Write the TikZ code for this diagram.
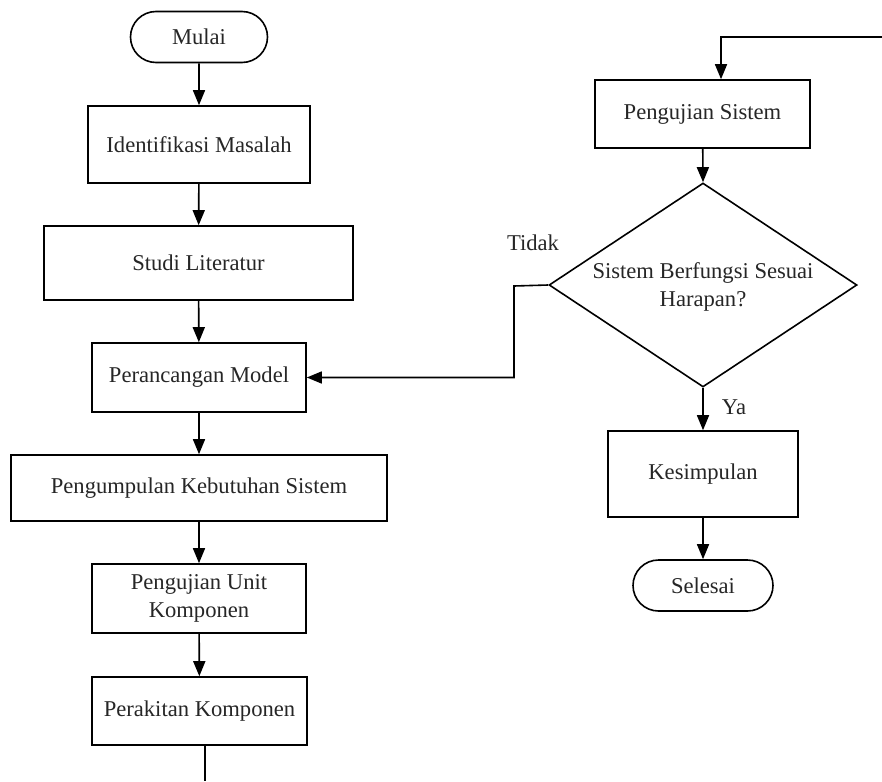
\documentclass[tikz,border=0pt]{standalone}
\usepackage{fontspec}
\setmainfont{Liberation Serif}
\usetikzlibrary{shapes.geometric,shapes.misc,arrows.meta}
\begin{document}
\begin{tikzpicture}[x=1pt,y=-1pt,
  every node/.style={font=\fontsize{22.6}{28}\selectfont, text=black!85},
  procbox/.style={draw, line width=1.6pt, rectangle, inner sep=0pt},
  termbox/.style={draw, line width=1.6pt, rounded rectangle, inner sep=0pt},
  decbox/.style={draw, line width=1.6pt, diamond, inner sep=0pt},
  arr/.style={line width=1.6pt, -{Triangle[length=15pt,width=12pt]}},
  plain/.style={line width=1.6pt}]
\useasboundingbox (0,0) rectangle (882,781);
% left column
\node[termbox, minimum width=137pt, minimum height=51pt] (mulai) at (199,37) {Mulai};
\node[procbox, minimum width=222pt, minimum height=77pt] (ident) at (199,144.5) {Identifikasi Masalah};
\node[procbox, minimum width=309pt, minimum height=74pt] (studi) at (198.5,263) {Studi Literatur};
\node[procbox, minimum width=214pt, minimum height=69pt] (peranc) at (199,377.5) {Perancangan Model};
\node[procbox, minimum width=376pt, minimum height=66pt] (kebut) at (199,488) {Pengumpulan Kebutuhan Sistem};
\node[procbox, minimum width=214pt, minimum height=69pt, align=center] (unit) at (199,598.5) {Pengujian Unit\\Komponen};
\node[procbox, minimum width=215pt, minimum height=68pt] (rakit) at (199.5,711) {Perakitan Komponen};
% right column
\node[procbox, minimum width=215pt, minimum height=68pt] (uji) at (702.5,114) {Pengujian Sistem};
\node[decbox, minimum width=308pt, minimum height=204pt] (dec) at (703,285) {};
\node[align=center] (dectext) at (703,287) {Sistem Berfungsi Sesuai\\Harapan?};
\node[procbox, minimum width=190pt, minimum height=86pt] (kes) at (703,474) {Kesimpulan};
\node[termbox, minimum width=140pt, minimum height=51pt] (sel) at (703,585.5) {Selesai};
% labels
\node (tidak) at (533,243) {Tidak};
\node (ya) at (734,407) {Ya};
% coordinates
\coordinate (botout) at (205,781);
\coordinate (topin) at (882,37);
\coordinate (topcorner) at (721,37);
\coordinate (loopx) at (514,286);
% connectors
\draw[arr] (mulai) -- (ident);
\draw[arr] (ident) -- (studi);
\draw[arr] (studi) -- (peranc);
\draw[arr] (peranc) -- (kebut);
\draw[arr] (kebut) -- (unit);
\draw[arr] (unit) -- (rakit);
\draw[plain] (rakit.south -| botout) -- (botout);
\draw[arr] (topin) -- (topcorner) -- (topcorner |- uji.north);
\draw[arr] (uji) -- (dec.north);
\draw[arr] (dec.south) -- (kes);
\draw[arr] (kes) -- (sel);
\draw[arr] (dec.west) -- (loopx) |- (peranc.east);
\end{tikzpicture}
\end{document}
